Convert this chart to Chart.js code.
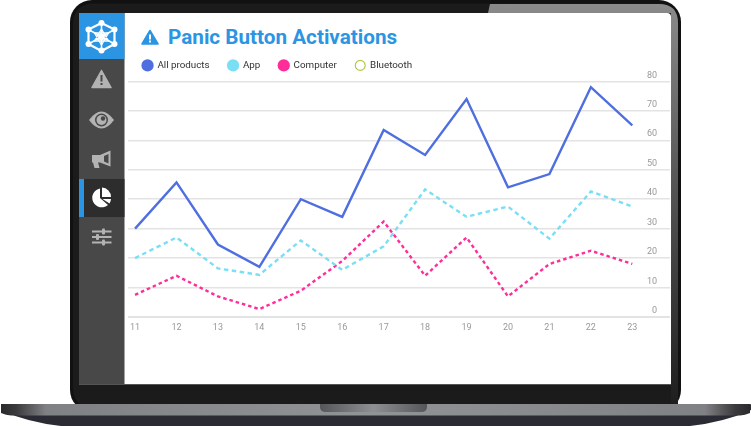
<!DOCTYPE html>
<html>
<head>
<meta charset="utf-8">
<title>Panic Button Activations</title>
<script src="https://cdn.jsdelivr.net/npm/chart.js@4/dist/chart.umd.min.js"></script>
<style>
  html, body { margin: 0; padding: 0; background: #fff; }
  #page { position: relative; width: 751px; height: 426px; overflow: hidden; font-family: Roboto, sans-serif; }
  #laptop { position: absolute; left: 0; top: 0; }
  #titulo { position: absolute; left: 168px; top: 24px; font-size: 20.7px; font-weight: 700; line-height: 26px; color: #2b95e3; white-space: nowrap; }
  #grafico { position: absolute; left: 125px; top: 43px; width: 545px; height: 293px; }
</style>
</head>
<body>
<div id="page">
  <svg id="laptop" width="751" height="426" viewBox="0 0 751 426">
    <defs>
      <linearGradient id="lado" x1="0" y1="0" x2="0" y2="1">
        <stop offset="0" stop-color="#8a8a8a"/>
        <stop offset="0.45" stop-color="#555"/>
        <stop offset="1" stop-color="#1e1e1e"/>
      </linearGradient>
      <linearGradient id="base" x1="0" y1="0" x2="1" y2="0">
        <stop offset="0" stop-color="#2a2a2c"/>
        <stop offset="0.02" stop-color="#3a3a3c"/>
        <stop offset="0.06" stop-color="#808184"/>
        <stop offset="0.5" stop-color="#929396"/>
        <stop offset="0.94" stop-color="#808184"/>
        <stop offset="0.98" stop-color="#3a3a3c"/>
        <stop offset="1" stop-color="#2a2a2c"/>
      </linearGradient>
      <linearGradient id="entalhe" x1="0" y1="0" x2="1" y2="0">
        <stop offset="0" stop-color="#55565a"/>
        <stop offset="0.5" stop-color="#8e8f92"/>
        <stop offset="1" stop-color="#55565a"/>
      </linearGradient>
    </defs>
    <!-- corpo da tela -->
    <rect x="70" y="0" width="611" height="412" rx="22" fill="#111"/>
    <rect x="73" y="3.5" width="605" height="405" rx="19" fill="#1b1b1b"/>
    <path d="M490 4 L659 4 Q678 4 678 23 L678 405 L671 405 L671 13 L488 13 Z" fill="url(#lado)"/>
    <!-- tela -->
    <path d="M79 13 H667 Q671 13 671 17 V384 H79 Z" fill="#fff"/>
    <rect x="79" y="384" width="592" height="1" fill="#555"/>
    <!-- barra lateral -->
    <rect x="79" y="13" width="45.5" height="371" fill="#484848"/>
    <rect x="79" y="13" width="45.5" height="46" fill="#2b95e3"/>
    <rect x="79" y="179" width="45.5" height="38" fill="#2d2d2d"/>
    <rect x="79" y="179" width="5" height="38" fill="#2b95e3"/>
    <!-- logo -->
    <g fill="none" stroke="#fff" stroke-width="2.2" stroke-linejoin="round">
      <path d="M101.5 23 L114.5 29.5 V44 L101.5 51 L88.5 44 V29.5 Z"/>
      <path d="M101.5 23 V51 M88.5 29.5 L114.5 44 M114.5 29.5 L88.5 44" stroke-width="1.5"/>
      <path d="M101.5 29 L108.5 41 H94.5 Z M101.5 45 L94.5 33 H108.5 Z" stroke-width="1.4"/>
    </g>
    <g fill="#fff">
      <circle cx="101.5" cy="23" r="3"/><circle cx="114.5" cy="29.5" r="3"/><circle cx="114.5" cy="44" r="3"/>
      <circle cx="101.5" cy="50.5" r="3"/><circle cx="88.5" cy="44" r="3"/><circle cx="88.5" cy="29.5" r="3"/>
      <circle cx="101.5" cy="37" r="3.4"/>
    </g>
    <!-- alerta -->
    <path d="M101.5 70.5 L111 87.5 H92 Z" fill="#b3b3b3" stroke="#b3b3b3" stroke-width="1.5" stroke-linejoin="round"/>
    <rect x="100.5" y="75" width="2" height="6.5" fill="#484848"/>
    <rect x="100.5" y="83" width="2" height="2" fill="#484848"/>
    <!-- olho -->
    <path d="M89 120 Q101.5 103 114 120 Q101.5 137 89 120 Z" fill="#b3b3b3"/>
    <circle cx="101.5" cy="120" r="6.5" fill="#484848"/>
    <circle cx="101.5" cy="120" r="5" fill="#b3b3b3"/>
    <circle cx="103" cy="118.5" r="2.2" fill="#484848"/>
    <!-- megafone -->
    <path d="M92 155 H100 L110.5 150.5 V166.5 L100 162.5 H98 L99.5 168 H94.5 L93 162.5 H92 Z" fill="#b3b3b3"/>
    <path d="M104 156 L108.5 154 V163.5 L104 161.5 Z" fill="#484848"/>
    <!-- pizza -->
    <path d="M100 188.5 A9.5 9.5 0 1 0 108 205 L100 198 Z" fill="#fff"/>
    <path d="M102 187.5 A9.5 9.5 0 0 1 111 197 H102 Z" fill="#fff"/>
    <path d="M102.5 199 H111 A9.5 9.5 0 0 1 109.5 203.5 Z" fill="#fff"/>
    <!-- ajustes -->
    <g fill="#b3b3b3">
      <rect x="92" y="230.5" width="19.5" height="2"/><rect x="92" y="236" width="19.5" height="2"/><rect x="92" y="241.5" width="19.5" height="2"/>
      <rect x="102" y="228.5" width="3" height="6" rx="1"/><rect x="96" y="234" width="3" height="6" rx="1"/><rect x="102" y="239.5" width="3" height="6" rx="1"/>
    </g>
    <!-- alerta do titulo -->
    <path d="M150 30.5 L158 44 H142 Z" fill="#2b95e3" stroke="#2b95e3" stroke-width="1.6" stroke-linejoin="round"/>
    <rect x="149" y="34.5" width="2" height="5" fill="#fff"/>
    <rect x="149" y="40.5" width="2" height="2" fill="#fff"/>
    <!-- base -->
    <path d="M1 404 H750 Q751 404 751 405 V410 Q725 422 690 426 H61 Q26 422 1 410 V405 Q1 404 1 404 Z" fill="#2b2c33"/>
    <path d="M1 404 H750 V413 Q745 415 740 415.5 H11 Q6 415 1 413 Z" fill="url(#base)"/>
    <path d="M320 404 H427 V407 Q427 412 421 412 H326 Q320 412 320 407 Z" fill="url(#entalhe)"/>
  </svg>
  <div id="titulo">Panic Button Activations</div>
  <div id="grafico"><canvas id="canvasGrafico"></canvas></div>
</div>
<script>
// dados
const horas = [11, 12, 13, 14, 15, 16, 17, 18, 19, 20, 21, 22, 23];
const allProducts = [30, 45.7, 24.6, 17, 40, 34, 63.5, 55, 74, 44, 48.5, 78, 65];
const app = [20, 27, 16.5, 14.3, 26, 16, 24, 43.3, 34, 37.5, 26.6, 42.6, 37.5];
const computer = [7.5, 14, 7, 2.7, 8.9, 19, 32.4, 14, 27, 7, 18, 22.5, 18];
const bluetooth = [];
const ticksY = [0, 10, 20, 30, 40, 50, 60, 70, 80];

function pontos(valores) {
  return valores.map((v, i) => ({ x: horas[i], y: v }));
}

// acerta onde a legenda comeca
const ajusteLegenda = {
  id: "ajusteLegenda",
  afterLayout(chart) {
    chart.legend.left -= 0.9;
    chart.legend.top -= 1;
  },
};

new Chart(document.getElementById("canvasGrafico"), {
  type: "line",
  data: {
    datasets: [
      {
        label: "All products",
        data: pontos(allProducts),
        borderColor: "#4f6fe0",
        backgroundColor: "#4f6fe0",
        borderWidth: 2.4,
      },
      {
        label: "App",
        data: pontos(app),
        borderColor: "#7adff5",
        backgroundColor: "#7adff5",
        borderWidth: 2.4,
        borderDash: [4.5, 3.5],
      },
      {
        label: "Computer",
        data: pontos(computer),
        borderColor: "#ff2d9a",
        backgroundColor: "#ff2d9a",
        borderWidth: 2.4,
        borderDash: [3.5, 3],
      },
      {
        label: "Bluetooth",
        data: pontos(bluetooth),
        borderColor: "#b5c944",
        backgroundColor: "#ffffff",
        borderWidth: 1.2,
      },
    ],
  },
  options: {
    responsive: true,
    maintainAspectRatio: false,
    animation: false,
    layout: { padding: 0 },
    elements: { point: { radius: 0 }, line: { tension: 0 } },
    plugins: {
      tooltip: { enabled: false },
      legend: {
        position: "top",
        align: "start",
        labels: {
          usePointStyle: true,
          pointStyle: "circle",
          boxWidth: 12,
          boxHeight: 7,
          pointStyleWidth: 9.9,
          padding: 18.5,
          color: "#333",
          font: { family: "Roboto", size: 9.8 },
        },
      },
    },
    scales: {
      x: {
        type: "linear",
        min: 10.83,
        max: 23.91,
        afterBuildTicks(scale) {
          scale.ticks = horas.map((h) => ({ value: h }));
        },
        afterFit(scale) {
          scale.height = 19;
        },
        grid: { display: false, drawTicks: false },
        border: { display: false },
        ticks: {
          autoSkip: false,
          maxRotation: 0,
          padding: 5,
          color: "#999",
          font: { family: "Roboto", size: 9 },
        },
      },
      y: {
        position: "right",
        min: 0,
        max: 80,
        afterBuildTicks(scale) {
          scale.ticks = ticksY.map((t) => ({ value: t }));
        },
        afterFit(scale) {
          scale.width = 0;
        },
        grid: {
          color: "#e3e3e3",
          lineWidth: (ctx) => (ctx.tick && ctx.tick.value === 0 ? 2 : 1.4),
          drawTicks: false,
          tickLength: 0,
        },
        border: { display: false },
        ticks: {
          mirror: true,
          padding: -13,
          labelOffset: -6,
          color: "#999",
          font: { family: "Roboto", size: 9 },
        },
      },
    },
  },
  plugins: [ajusteLegenda],
});
</script>
</body>
</html>
